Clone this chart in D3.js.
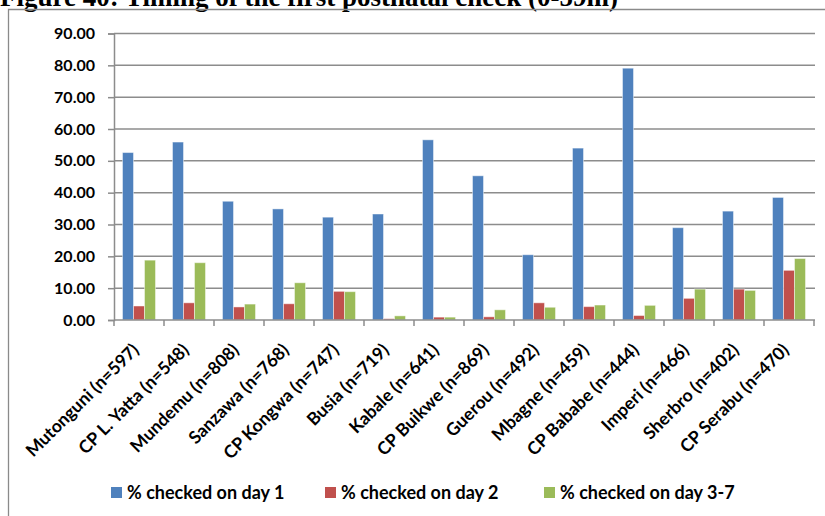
<!DOCTYPE html>
<html>
<head>
<meta charset="utf-8">
<script src="https://cdn.jsdelivr.net/npm/d3@7"></script>
<style>
  html, body { margin: 0; padding: 0; background: #fff; }
  svg { display: block; }
  .title { font-family: "Liberation Serif", "Times New Roman", serif; font-weight: bold; font-size: 27px; fill: #000; }
  .lbl { font-family: Lato, "Open Sans", sans-serif; font-weight: bold; font-size: 16px; fill: #000; }
  .cat { font-family: Lato, "Open Sans", sans-serif; font-weight: bold; font-size: 17.6px; fill: #000; }
  .leg { font-family: Lato, "Open Sans", sans-serif; font-weight: bold; font-size: 18px; fill: #000; }
</style>
</head>
<body>
<script>
// Sites with sample size, as shown on the category axis
const categories = [
  "Mutonguni (n=597)", "CP L. Yatta (n=548)", "Mundemu (n=808)", "Sanzawa (n=768)",
  "CP Kongwa (n=747)", "Busia (n=719)", "Kabale (n=641)", "CP Buikwe (n=869)",
  "Guerou (n=492)", "Mbagne (n=459)", "CP Bababe (n=444)", "Imperi (n=466)",
  "Sherbro (n=402)", "CP Serabu (n=470)"
];

const seriesNames = ["% checked on day 1", "% checked on day 2", "% checked on day 3-7"];

const day1   = [52.6, 55.9, 37.3, 34.9, 32.3, 33.3, 56.6, 45.3, 20.5, 54.0, 79.1, 29.0, 34.2, 38.5];
const day2   = [4.4, 5.4, 4.1, 5.1, 9.0, 0.4, 0.9, 1.0, 5.4, 4.2, 1.4, 6.8, 9.7, 15.6];
const day3to7 = [18.8, 18.0, 5.0, 11.7, 8.9, 1.3, 0.9, 3.2, 4.0, 4.7, 4.6, 9.7, 9.3, 19.3];

const yTicks = [0, 10, 20, 30, 40, 50, 60, 70, 80, 90];

const colors = ["#4F81BD", "#C0504D", "#9BBB59"];
const seriesValues = [day1, day2, day3to7];

const W = 825, H = 516;
const plot = { left: 114, right: 814, top: 33.5, bottom: 320 };

const svg = d3.select("body").append("svg").attr("width", W).attr("height", H);

// Title and outer frame
svg.append("text").attr("class", "title").attr("x", 0).attr("y", 6)
  .text("Figure 40:  Timing of the first postnatal check (0-59m)");
svg.append("path")
  .attr("d", `M8.5,${H} V9.5 H${W}`)
  .attr("fill", "none").attr("stroke", "#8a8a8a").attr("stroke-width", 1.3);

const x = d3.scaleBand().domain(categories)
  .range([plot.left, plot.right]).paddingInner(0.34).paddingOuter(0.17);
const xs = d3.scaleBand().domain(d3.range(seriesNames.length))
  .range([0, x.bandwidth()]).padding(0);
const y = d3.scaleLinear().domain([0, 90]).range([plot.bottom, plot.top]);

// Horizontal gridlines
svg.append("g").selectAll("line").data(yTicks.filter(d => d > 0)).join("line")
  .attr("x1", plot.left).attr("x2", plot.right + 1)
  .attr("y1", d => y(d)).attr("y2", d => y(d))
  .attr("stroke", "#8c8c8c").attr("stroke-width", 1.5);

// Y axis
const yAxis = svg.append("g").attr("transform", `translate(${plot.left},0)`)
  .call(d3.axisLeft(y).tickValues(yTicks).tickFormat(d3.format(".2f")).tickSize(6).tickPadding(13));
yAxis.attr("font-family", null).attr("font-size", null);
yAxis.select(".domain").attr("stroke", "#8c8c8c").attr("stroke-width", 1.5);
yAxis.selectAll(".tick line").attr("stroke", "#8c8c8c").attr("stroke-width", 1.5);
yAxis.selectAll(".tick text").attr("class", "lbl").attr("fill", "#000");

// Bars
const groups = svg.append("g").selectAll("g").data(categories).join("g")
  .attr("transform", d => `translate(${x(d)},0)`);
groups.selectAll("rect")
  .data((d, i) => seriesValues.map((vals, s) => ({ s, v: vals[i] })))
  .join("rect")
  .attr("x", d => xs(d.s))
  .attr("width", xs.bandwidth())
  .attr("y", d => y(d.v))
  .attr("height", d => y(0) - y(d.v))
  .attr("fill", d => colors[d.s])
  .attr("stroke", "rgba(255,255,255,0.45)").attr("stroke-width", 1);

// X axis with boundary ticks
const xAxisG = svg.append("g");
xAxisG.append("line").attr("x1", plot.left).attr("x2", plot.right + 1)
  .attr("y1", plot.bottom).attr("y2", plot.bottom)
  .attr("stroke", "#8c8c8c").attr("stroke-width", 1.5);
const bounds = categories.map(c => x(c) - x.step() * x.paddingInner() / 2).concat([plot.right]);
xAxisG.selectAll("line.b").data(bounds).join("line").attr("class", "b")
  .attr("x1", d => d).attr("x2", d => d)
  .attr("y1", plot.bottom).attr("y2", plot.bottom + 6)
  .attr("stroke", "#8c8c8c").attr("stroke-width", 1.5);

// Rotated category labels
svg.append("g").selectAll("text").data(categories).join("text")
  .attr("class", "cat")
  .attr("text-anchor", "end")
  .attr("transform", d => `translate(${x(d) + x.bandwidth() / 2 + 1},${plot.bottom + 31}) rotate(-45)`)
  .text(d => d);

// Legend
const legendX = [111, 325, 544];
const lg = svg.append("g").selectAll("g").data(seriesNames).join("g")
  .attr("transform", (d, i) => `translate(${legendX[i]},487)`);
lg.append("rect").attr("width", 11).attr("height", 11).attr("fill", (d, i) => colors[i]);
lg.append("text").attr("class", "leg").attr("x", 16).attr("y", 11.5).text(d => d);
</script>
</body>
</html>
